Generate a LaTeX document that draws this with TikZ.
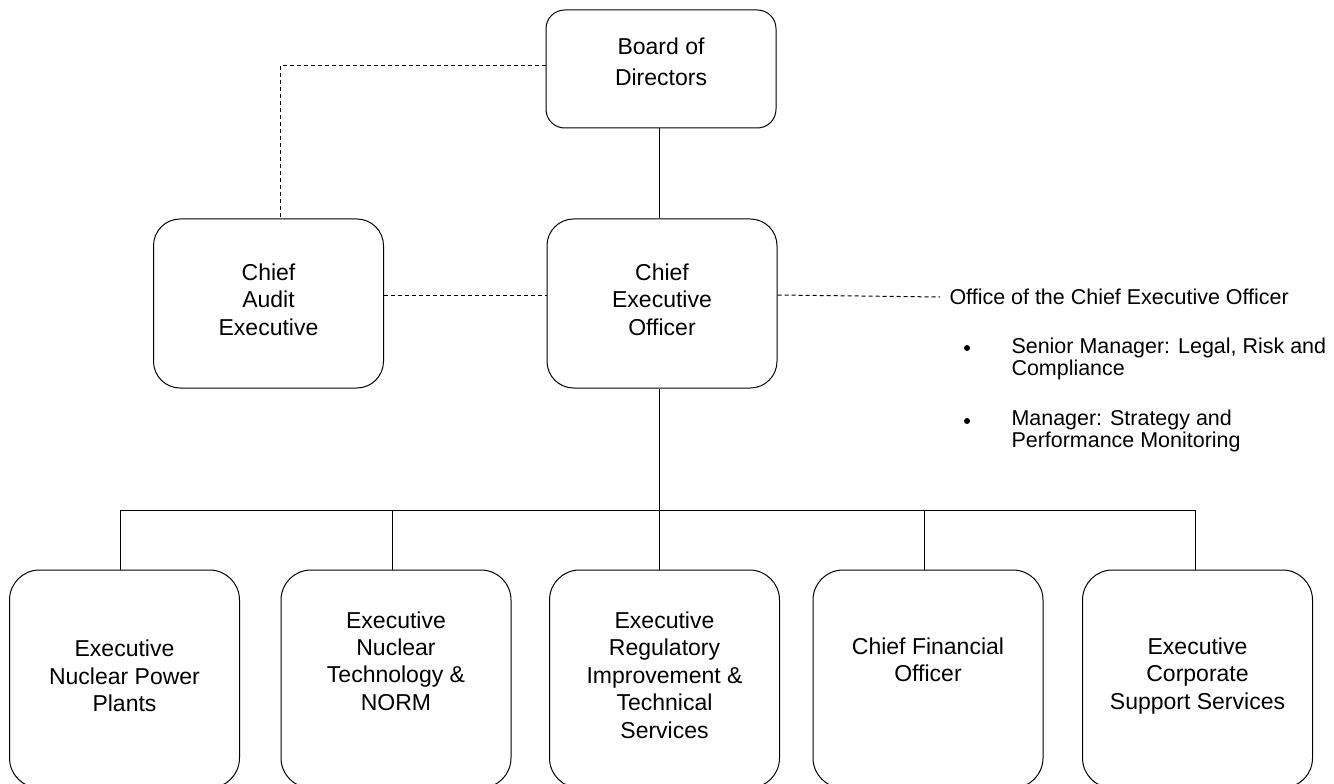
\documentclass[tikz,border=0pt]{standalone}
\usepackage{fontspec}
\setmainfont{Liberation Sans}
\begin{document}
\begin{tikzpicture}[x=0.75pt,y=-0.75pt,line width=0.75pt,
  orgbox/.style={draw,inner sep=0pt,minimum width=172.5pt},
  boxtext/.style={align=center,inner sep=0pt,font=\fontsize{17.25pt}{20.6pt}\selectfont},
  sidetext/.style={align=left,inner sep=0pt,anchor=west,font=\fontsize{16.1pt}{16.5pt}\selectfont},
  dashline/.style={dash pattern=on 3pt off 2.25pt},
  bulletdot/.style={circle,fill,inner sep=0pt,minimum size=4.5pt}]
\fill[white] (0,0) rectangle (1334,784);
\path[use as bounding box] (0,0) rectangle (1334,784);

% boxes
\node[orgbox,rounded corners=14pt,minimum height=88.5pt] (board) at (661,69) {};
\node[orgbox,rounded corners=20pt,minimum height=126.75pt] (audit) at (268.5,303.5) {};
\node[orgbox,rounded corners=20pt,minimum height=126.75pt] (ceo) at (662,303.5) {};
\node[orgbox,rounded corners=22.5pt,minimum height=163.5pt] (b1) at (124.5,679) {};
\node[orgbox,rounded corners=22.5pt,minimum height=163.5pt] (b2) at (396,679) {};
\node[orgbox,rounded corners=22.5pt,minimum height=163.5pt] (b3) at (664.5,679) {};
\node[orgbox,rounded corners=22.5pt,minimum height=163.5pt] (b4) at (928,679) {};
\node[orgbox,rounded corners=22.5pt,minimum height=163.5pt] (b5) at (1197.5,679) {};

% texts
\node[boxtext,font=\fontsize{17.25pt}{23.25pt}\selectfont] (boardT) at (661,62) {Board of\\Directors};
\node[boxtext] (auditT) at (268.5,299.5) {Chief\\Audit\\Executive};
\node[boxtext] (ceoT) at (662,299.5) {Chief\\Executive\\Officer};
\node[boxtext] (b1T) at (124.5,676) {Executive\\Nuclear Power\\Plants};
\node[boxtext] (b2T) at (396,661) {Executive\\Nuclear\\Technology \&\\NORM};
\node[boxtext] (b3T) at (664.5,675) {Executive\\Regulatory\\Improvement \&\\Technical\\Services};
\node[boxtext] (b4T) at (928,660) {Chief Financial\\Officer};
\node[boxtext] (b5T) at (1197.5,676) {Executive\\Corporate\\Support Services};

\node[sidetext,inner xsep=6.75pt] (office) at (940,297) {Office of the Chief Executive Officer};
\node[bulletdot] (bul1) at (967,348) {};
\node[sidetext] (item1) at (1011,359) {Senior Manager: Legal, Risk and\\Compliance};
\node[bulletdot] (bul2) at (967,421) {};
\node[sidetext] (item2) at (1011,431) {Manager: Strategy and\\Performance Monitoring};

% coordinates
\coordinate (c1) at (280,66);
\coordinate (mid) at (662,295);
\coordinate (d1) at (120,510);
\coordinate (d2) at (392,510);
\coordinate (d3) at (659,510);
\coordinate (d4) at (924,510);
\coordinate (d5) at (1195,510);

% solid connectors
\draw (board.south -| d3) -- (ceo.north -| d3);
\draw (ceo.south -| d3) -- (d3);
\draw (d1) -- (d5);
\draw (d1) -- (d1 |- b1.north);
\draw (d2) -- (d2 |- b2.north);
\draw (d3) -- (d3 |- b3.north);
\draw (d4) -- (d4 |- b4.north);
\draw (d5) -- (d5 |- b5.north);

% dashed connectors
\draw[dashline] (board.west |- c1) -- (c1) -- (c1 |- audit.north);
\draw[dashline] (audit.east |- mid) -- (ceo.west |- mid);
\draw[dashline] (ceo.east |- mid) -- (office.west);
\end{tikzpicture}
\end{document}
